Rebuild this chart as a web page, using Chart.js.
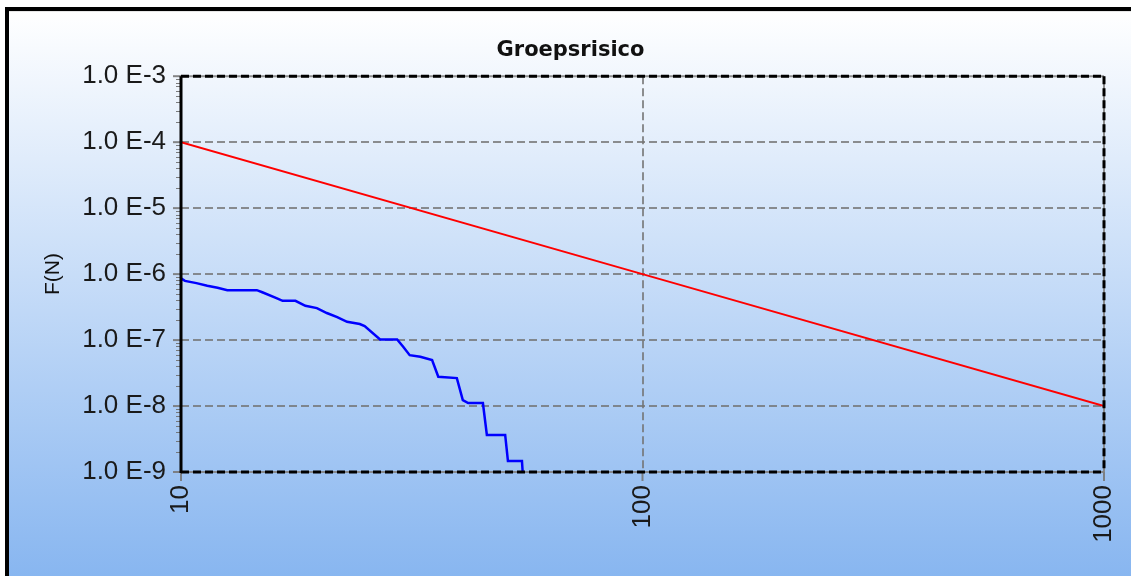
<!DOCTYPE html>
<html>
<head>
<meta charset="utf-8">
<script src="https://cdn.jsdelivr.net/npm/chart.js@4/dist/chart.umd.min.js"></script>
<style>
  html, body { margin: 0; padding: 0; background: #ffffff; }
  #c { display: block; }
</style>
</head>
<body>
<canvas id="c" width="1131" height="576"></canvas>
<script>
// ---- data ----
const chartTitle = 'Groepsrisico';
const yAxisTitle = 'F(N)';

const xTickValues = [10, 100, 1000];
const xTickLabels = ['10', '100', '1000'];
const yTickValues = [1e-9, 1e-8, 1e-7, 1e-6, 1e-5, 1e-4, 1e-3];
const yTickLabels = ['1.0 E-9', '1.0 E-8', '1.0 E-7', '1.0 E-6', '1.0 E-5', '1.0 E-4', '1.0 E-3'];

// norm line (red)
const normN = [10, 100, 1000];
const normF = [1e-4, 1e-6, 1e-8];

// computed FN curve (blue)
const fnN = [10, 10.2, 10.8, 11.4, 12.0, 12.6, 14.6, 15.0, 16.1, 16.6, 17.7, 18.6, 19.7, 20.7, 21.8, 22.9, 24.4, 25.0,
             27.0, 29.4, 30.3, 31.3, 33.0, 35.0, 36.1, 39.6, 40.8, 41.9, 45.1, 46.0, 50.4, 51.1, 54.8, 55.0];
const fnF = [8.6e-7, 7.9e-7, 7.3e-7, 6.65e-7, 6.2e-7, 5.7e-7, 5.7e-7, 5.3e-7, 4.33e-7, 3.94e-7, 3.94e-7, 3.31e-7, 3.05e-7,
             2.57e-7, 2.23e-7, 1.89e-7, 1.75e-7, 1.63e-7, 1.02e-7, 1.02e-7, 7.9e-8, 5.9e-8, 5.6e-8, 4.97e-8, 2.78e-8,
             2.65e-8, 1.23e-8, 1.11e-8, 1.11e-8, 3.64e-9, 3.64e-9, 1.47e-9, 1.47e-9, 1e-9];

const toPts = (xs, ys) => xs.map((x, i) => ({ x: x, y: ys[i] }));

const GRID = 'rgba(115,115,115,0.8)';
const TICKFONT = { family: 'Liberation Sans', size: 26 };

const bgPlugin = {
  id: 'bg',
  beforeDraw(chart) {
    const ctx = chart.ctx;
    const W = chart.width, H = chart.height;
    ctx.save();
    ctx.fillStyle = '#ffffff';
    ctx.fillRect(0, 0, W, H);
    const g = ctx.createLinearGradient(0, 11, 0, H);
    g.addColorStop(0, '#ffffff');
    g.addColorStop(1, '#88b6f0');
    ctx.fillStyle = g;
    ctx.fillRect(9, 11, W - 9, H - 11);
    ctx.fillStyle = '#e6e6e6';
    ctx.fillRect(9, 11, W - 9, 1);
    ctx.fillStyle = '#000000';
    ctx.fillRect(5, 7, W - 5, 4);
    ctx.fillRect(5, 7, 4, H - 7);
    ctx.restore();
  }
};

const framePlugin = {
  id: 'frame',
  afterDraw(chart) {
    const ctx = chart.ctx;
    const a = chart.chartArea;
    const xs = chart.scales.x, ys = chart.scales.y;
    ctx.save();
    // minor ticks on y axis
    ctx.strokeStyle = 'rgba(110,110,110,0.9)';
    ctx.lineWidth = 1;
    for (let i = 0; i < yTickValues.length - 1; i++) {
      for (let m = 2; m <= 9; m++) {
        const py = Math.round(ys.getPixelForValue(yTickValues[i] * m)) + 0.5;
        ctx.beginPath();
        ctx.moveTo(a.left - 5, py);
        ctx.lineTo(a.left, py);
        ctx.stroke();
      }
    }
    // major ticks
    ctx.strokeStyle = 'rgba(120,120,120,0.9)';
    ctx.lineWidth = 2;
    yTickValues.forEach(v => {
      const py = ys.getPixelForValue(v);
      ctx.beginPath();
      ctx.moveTo(a.left - 8, py);
      ctx.lineTo(a.left, py);
      ctx.stroke();
    });
    xTickValues.forEach(v => {
      const px = xs.getPixelForValue(v);
      ctx.beginPath();
      ctx.moveTo(px, a.bottom);
      ctx.lineTo(px, a.bottom + 9);
      ctx.stroke();
    });
    // top, right and bottom borders: dashed black over grey
    const seg = (x1, y1, x2, y2) => { ctx.beginPath(); ctx.moveTo(x1, y1); ctx.lineTo(x2, y2); ctx.stroke(); };
    ctx.strokeStyle = 'rgba(130,130,130,0.9)';
    ctx.lineWidth = 2;
    ctx.setLineDash([]);
    seg(a.left, a.top, a.right, a.top);
    seg(a.right, a.top, a.right, a.bottom);
    seg(a.left, a.bottom, a.right, a.bottom);
    ctx.strokeStyle = '#000000';
    ctx.lineWidth = 3;
    ctx.setLineDash([8, 4]);
    seg(a.left, a.top, a.right, a.top);
    seg(a.right, a.top, a.right, a.bottom);
    seg(a.left, a.bottom, a.right, a.bottom);
    // left axis solid black
    ctx.setLineDash([]);
    ctx.lineWidth = 3;
    seg(a.left, a.top, a.left, a.bottom + 1);
    ctx.restore();
  }
};

new Chart(document.getElementById('c'), {
  type: 'scatter',
  data: {
    datasets: [
      {
        label: 'Norm',
        data: toPts(normN, normF),
        showLine: true,
        borderColor: '#ff0000',
        borderWidth: 2,
        pointRadius: 0,
        fill: false,
        tension: 0
      },
      {
        label: 'FN',
        data: toPts(fnN, fnF),
        showLine: true,
        borderColor: '#0000ff',
        borderWidth: 2.5,
        pointRadius: 0,
        fill: false,
        tension: 0
      }
    ]
  },
  plugins: [bgPlugin, framePlugin],
  options: {
    responsive: false,
    animation: false,
    events: [],
    layout: { padding: { left: 37, right: 27, top: 0, bottom: 0 } },
    plugins: {
      legend: { display: false },
      tooltip: { enabled: false },
      title: {
        display: true,
        text: chartTitle,
        color: '#111111',
        font: { family: 'DejaVu Sans', weight: 'bold', size: 21, lineHeight: 1.2 },
        padding: { top: 38, bottom: 13 }
      }
    },
    scales: {
      x: {
        type: 'logarithmic',
        min: 10,
        max: 1000,
        afterBuildTicks(scale) { scale.ticks = xTickValues.map(v => ({ value: v })); },
        afterFit(scale) { scale.height = 104; scale.paddingLeft = 0; scale.paddingRight = 0; },
        ticks: {
          autoSkip: false,
          minRotation: 90,
          maxRotation: 90,
          padding: 13,
          color: '#1a1a1a',
          font: TICKFONT,
          callback: (v, i) => xTickLabels[i]
        },
        grid: {
          drawTicks: false,
          lineWidth: 2,
          color: ctx => (ctx.index === 0 || ctx.index === xTickValues.length - 1) ? 'rgba(0,0,0,0)' : GRID
        },
        border: { display: false, dash: [8, 4] }
      },
      y: {
        type: 'logarithmic',
        min: 1e-9,
        max: 1e-3,
        afterBuildTicks(scale) { scale.ticks = yTickValues.map(v => ({ value: v })); },
        afterFit(scale) { scale.width = 144; },
        ticks: {
          autoSkip: false,
          padding: 15,
          color: '#1a1a1a',
          font: TICKFONT,
          callback: (v, i) => yTickLabels[i]
        },
        grid: {
          drawTicks: false,
          lineWidth: 2,
          color: ctx => (ctx.index === 0 || ctx.index === yTickValues.length - 1) ? 'rgba(0,0,0,0)' : GRID
        },
        border: { display: false, dash: [8, 4] },
        title: {
          display: true,
          text: yAxisTitle,
          color: '#111111',
          font: { family: 'Liberation Sans', size: 21, lineHeight: 1.2 },
          padding: { top: 4, bottom: 0 }
        }
      }
    }
  }
});
</script>
</body>
</html>
